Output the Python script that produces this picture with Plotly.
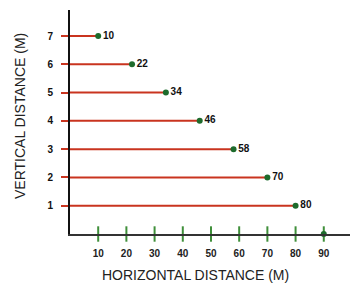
import plotly.graph_objects as go

levels = [7, 6, 5, 4, 3, 2, 1]
horizontal = [10, 22, 34, 46, 58, 70, 80]
x_ticks = [10, 20, 30, 40, 50, 60, 70, 80, 90]
y_ticks = [1, 2, 3, 4, 5, 6, 7]

RED = "#c9341f"
GREEN = "#1d6b2c"
TICKGREEN = "#3f8f3a"
FONT = "Liberation Sans Narrow, Arial Narrow, Liberation Sans, Arial, sans-serif"

fig = go.Figure()

# horizontal red lines from the axis to each point
for lv, h in zip(levels, horizontal):
    fig.add_trace(go.Scatter(x=[0, h], y=[lv, lv], mode="lines",
                             line=dict(color=RED, width=2),
                             hoverinfo="skip", showlegend=False))

# end points with labels
fig.add_trace(go.Scatter(x=horizontal, y=levels, mode="markers+text",
                         marker=dict(color=GREEN, size=6),
                         text=[str(h) for h in horizontal],
                         textposition="middle right",
                         textfont=dict(family=FONT, size=10, color="#111", weight="bold"),
                         cliponaxis=False, showlegend=False))

# green crossing ticks on x axis
fig.add_trace(go.Scatter(x=x_ticks, y=[0] * len(x_ticks), mode="markers",
                         marker=dict(symbol="line-ns-open", size=11, color=TICKGREEN,
                                     line=dict(color=TICKGREEN, width=2)),
                         cliponaxis=False, showlegend=False, hoverinfo="skip"))
fig.add_trace(go.Scatter(x=[x_ticks[-1]], y=[0], mode="markers",
                         marker=dict(symbol="circle", size=6, color=GREEN),
                         cliponaxis=False, showlegend=False, hoverinfo="skip"))

fig.update_layout(
    width=350, height=293,
    margin=dict(l=70, r=0, t=10, b=59),
    paper_bgcolor="white", plot_bgcolor="white",
    xaxis=dict(range=[0, 99.3], tickvals=x_ticks, ticktext=[str(v) for v in x_ticks],
               showgrid=False, zeroline=False, showline=True, linecolor="#333",
               linewidth=2, ticks="outside", ticklen=9, tickcolor="rgba(0,0,0,0)",
               tickfont=dict(family=FONT, size=10, color="#222", weight="bold")),
    yaxis=dict(range=[0, 7.92], tickvals=y_ticks, ticktext=[str(v) for v in y_ticks],
               showgrid=False, zeroline=False, showline=True, linecolor="#111",
               linewidth=2, ticks="outside", ticklen=7, tickcolor=RED, tickwidth=2,
               ticklabelstandoff=6,
               tickfont=dict(family=FONT, size=10, color="#111", weight="bold")),
    annotations=[
        dict(text="HORIZONTAL DISTANCE (M)", xref="paper", yref="paper",
             x=(195 - 70) / 280, y=-(275 - 234) / 224, showarrow=False,
             xanchor="center", yanchor="middle",
             font=dict(family="Liberation Sans, Arial, sans-serif", size=14, color="#222")),
        dict(text="VERTICAL DISTANCE (M)", xref="paper", yref="paper",
             x=-(70 - 20) / 280, y=(234 - 116) / 224, showarrow=False, textangle=-90,
             xanchor="center", yanchor="middle",
             font=dict(family="Liberation Sans, Arial, sans-serif", size=14, color="#222")),
    ],
)

fig.write_html("out.html", config={"displayModeBar": False},
               post_script="document.body.style.margin='0';")
